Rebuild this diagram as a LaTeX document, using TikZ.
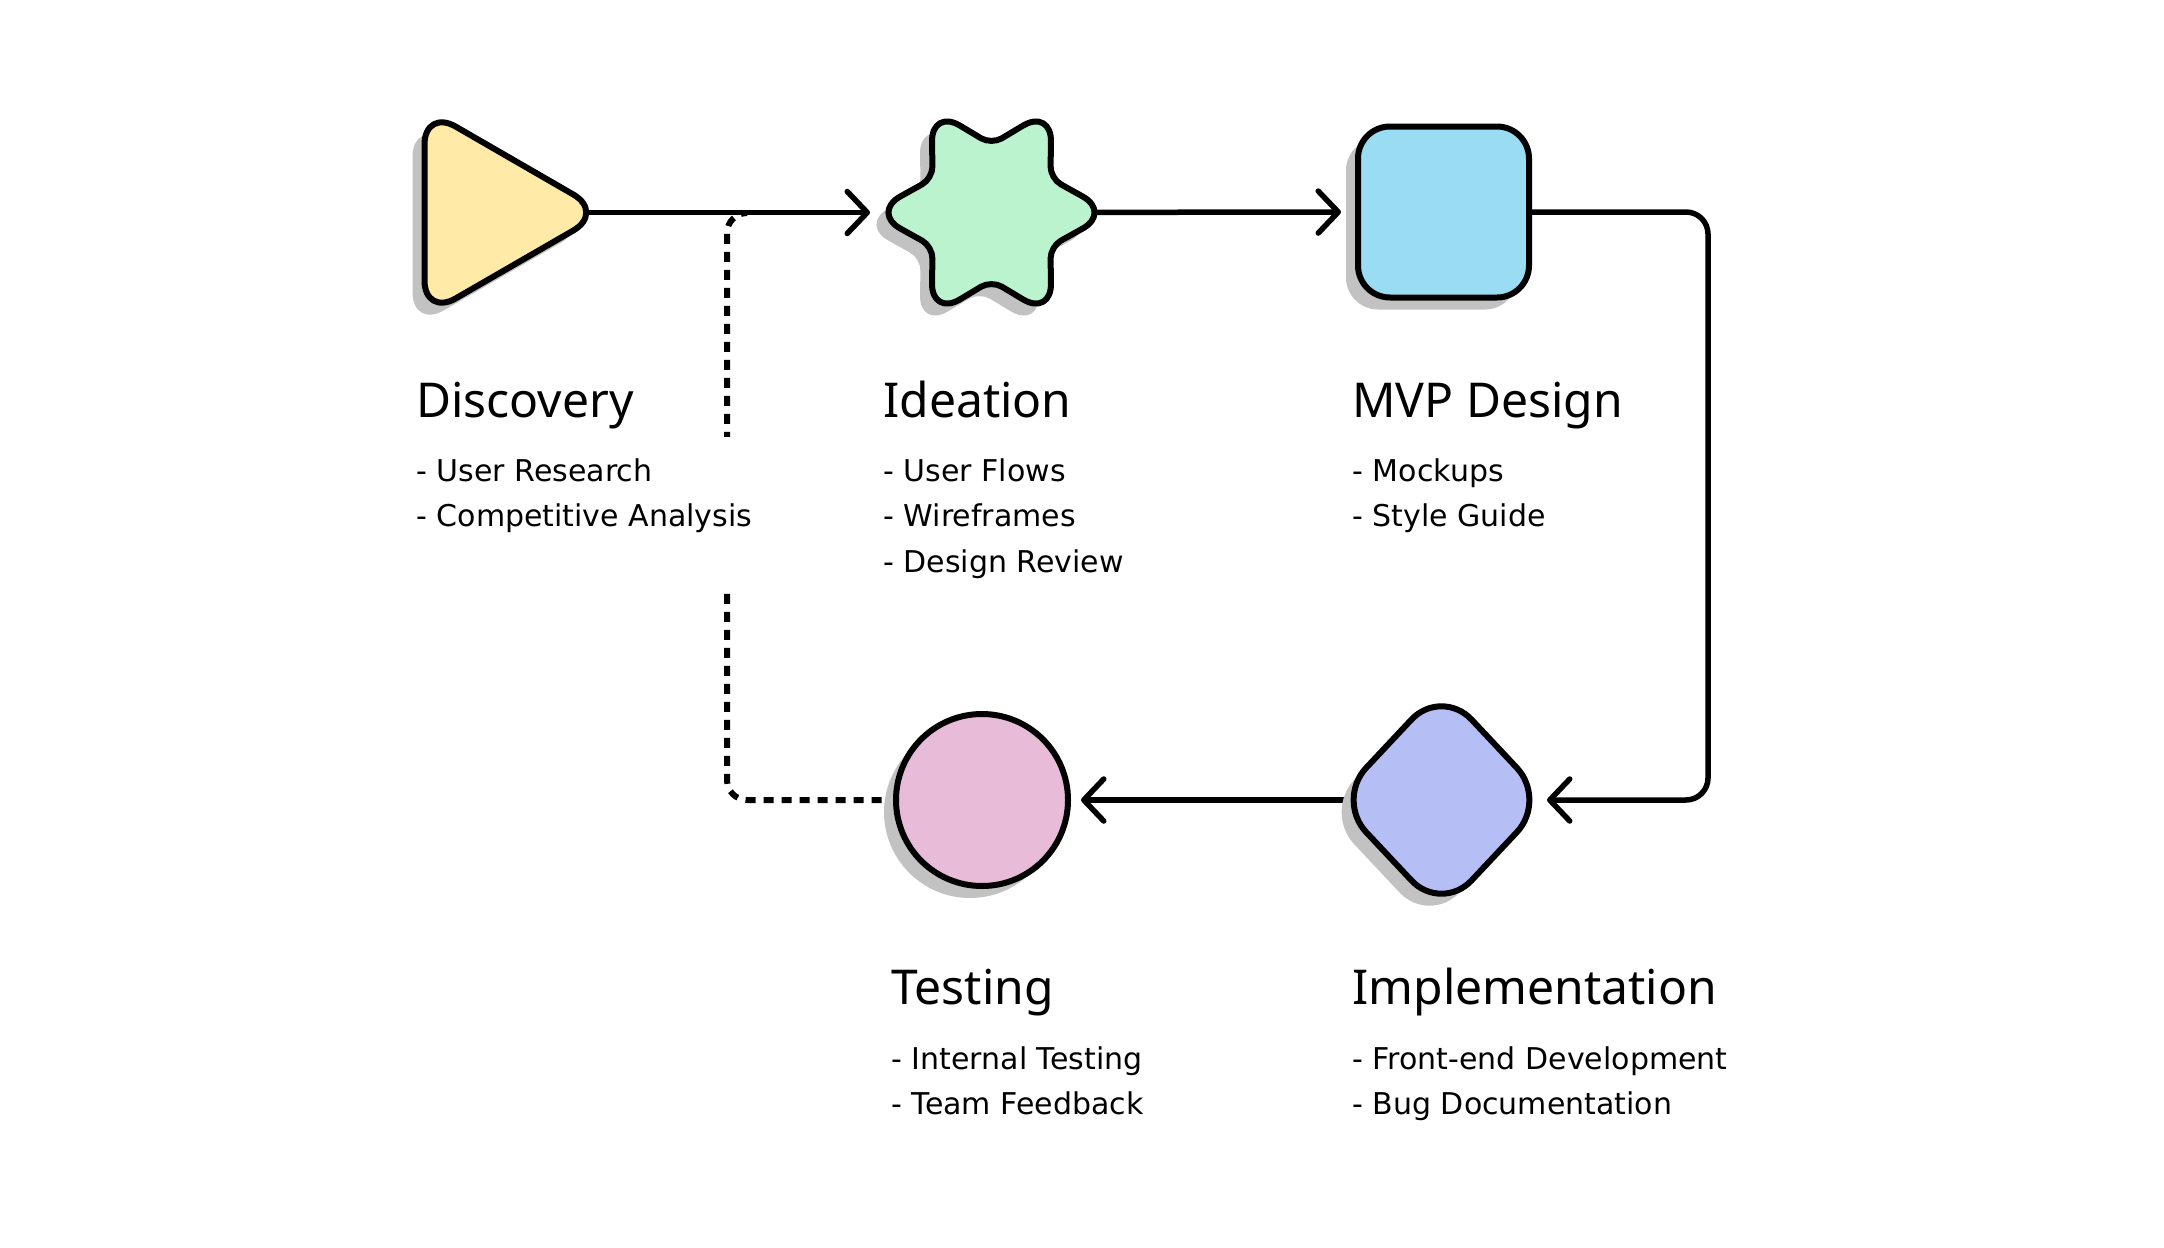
\documentclass[tikz,border=0pt]{standalone}
\usepackage{fontspec}
\setmainfont{Noto Sans}
\newfontfamily\descfont{DejaVu Sans}
\usetikzlibrary{shapes.geometric,shadows,arrows.meta,backgrounds,calc}
\definecolor{cyellow}{HTML}{FFEAA7}
\definecolor{cgreen}{HTML}{BAF3CE}
\definecolor{cblue}{HTML}{9ADCF1}
\definecolor{cviolet}{HTML}{B5BFF5}
\definecolor{cpink}{HTML}{E8BBD8}
\definecolor{shadowgray}{HTML}{C2C2C2}
\begin{document}
\begin{tikzpicture}[x=0.5pt,y=-0.5pt,
  shadowed/.style={drop shadow={shadow xshift=-6pt, shadow yshift=-6pt, opacity=1, fill=shadowgray}},
  stage/.style={draw=black, line width=3pt, line join=round, inner sep=0pt, outer sep=0pt, shadowed},
  titletext/.style={anchor=base west, inner sep=0pt, font=\fontsize{24pt}{29pt}\selectfont},
  desctext/.style={anchor=base west, inner sep=0pt, font=\descfont\fontsize{15pt}{22.75pt}\selectfont},
  conn/.style={line width=2.75pt, line cap=round, line join=round},
  tipped/.style={-{Straight Barb[length=10pt,width=21pt,round]}},
  dashconn/.style={line width=3pt, line cap=butt, dash pattern=on 5pt off 4pt},
]
\useasboundingbox (0,0) rectangle (2164,1248);

% stages
\node[stage, regular polygon, regular polygon sides=3, shape border rotate=-90,
      minimum size=120pt, rounded corners=18pt, fill=cyellow] (disc) at (484.5,212.5) {};
% ideation: six-pointed star (anchor node, outline drawn below)
\node[star, star points=6, star point ratio=1.765, shape border rotate=30,
      minimum size=120pt, inner sep=0pt, outer sep=0pt] (idea) at (991.5,212.5) {};
\foreach \k in {0,...,5} {
  \coordinate (T\k) at ($(idea.center)+({60*\k}:120)$);
  \coordinate (I\k) at ($(idea.center)+({60*\k+30}:68)$);
}
\foreach \k/\p/\n in {0/5/1,1/0/2,2/1/3,3/2/4,4/3/5,5/4/0} {
  \coordinate (A\k) at ($(T\k)!16.5pt!(I\k)$);
  \coordinate (B\k) at ($(T\k)!16.5pt!(I\p)$);
  \coordinate (C\k) at ($(I\k)!6pt!(T\k)$);
  \coordinate (D\k) at ($(I\k)!6pt!(T\n)$);
  \coordinate (Ac\k) at ($(A\k)!0.55!(T\k)$);
  \coordinate (Bc\k) at ($(B\k)!0.55!(T\k)$);
  \coordinate (Cc\k) at ($(C\k)!0.55!(I\k)$);
  \coordinate (Dc\k) at ($(D\k)!0.55!(I\k)$);
}
\draw[stage, fill=cgreen] (A0)
  \foreach \k/\n in {0/1,1/2,2/3,3/4,4/5,5/0} {
    -- (C\k) .. controls (Cc\k) and (Dc\k) .. (D\k)
    -- (B\n) .. controls (Bc\n) and (Ac\n) .. (A\n)
  } -- cycle;
\node[stage, rectangle, minimum size=85.5pt, rounded corners=16pt, fill=cblue] (mvp) at (1443.5,212) {};
\node[stage, diamond, minimum width=105.5pt, minimum height=112.5pt, rounded corners=22pt,
      fill=cviolet] (impl) at (1441.5,800) {};
\node[stage, circle, minimum size=86pt, fill=cpink] (test) at (982,800) {};

% titles
\node[titletext] (discT) at (416,417) {Discovery};
\node[titletext] (ideaT) at (883,417) {Ideation};
\node[titletext] (mvpT) at (1352,417) {MVP Design};
\node[titletext] (testT) at (891,1004) {Testing};
\node[titletext] (implT) at (1352,1004) {Implementation};

% descriptions
\node[desctext, fill=white, text height=22pt, text depth=55.5pt] (discD) at (416,481)
  {\vtop{\hbox{- User Research}\hbox{- Competitive Analysis}}};
\node[desctext] (ideaD) at (883,481)
  {\vtop{\hbox{- User Flows}\hbox{- Wireframes}\hbox{- Design Review}}};
\node[desctext] (mvpD) at (1352,481)
  {\vtop{\hbox{- Mockups}\hbox{- Style Guide}}};
\node[desctext] (testD) at (891,1069)
  {\vtop{\hbox{- Internal Testing}\hbox{- Team Feedback}}};
\node[desctext] (implD) at (1352,1069)
  {\vtop{\hbox{- Front-end Development}\hbox{- Bug Documentation}}};

\coordinate (jv) at (727,213);
\coordinate (join) at (747,213);
\coordinate (rc) at (1708,800);

\begin{scope}[on background layer]
  \draw[conn, tipped, shorten >=0.75pt] (disc.center) -- (idea.west);
  \draw[conn, tipped, shorten >=8.5pt] (idea.center) -- (mvp.west);
  \draw[conn, tipped, rounded corners=11pt] (mvp.east) -| (rc) -- (impl.east);
  \draw[conn, tipped, shorten >=6.5pt] (impl.center) -- (test.east);
  \draw[dashconn, rounded corners=10pt, shorten <=7.25pt] (test.west) -| (jv) -- (join);
\end{scope}
\end{tikzpicture}
\end{document}
